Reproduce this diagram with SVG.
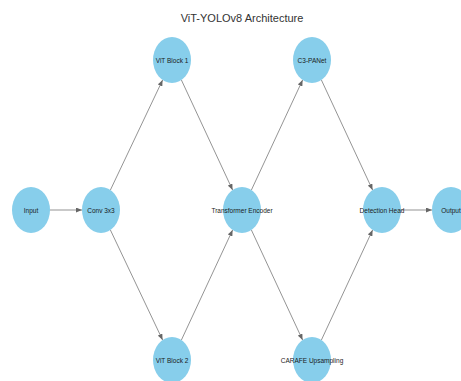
<svg xmlns="http://www.w3.org/2000/svg" width="461" height="381" viewBox="0 0 461 381">
<defs>
<style>
.n{fill:#87CEEB;stroke:none}
.t{font-family:"Liberation Sans",Arial,sans-serif;font-size:6.5px;fill:#1a1a1a;text-anchor:middle;dominant-baseline:central}
.e{stroke:#666;stroke-width:0.7;fill:none;marker-end:url(#ah)}
.title{font-family:"Liberation Sans",Arial,sans-serif;font-size:11px;fill:#333;text-anchor:middle}
</style>
<marker id="ah" markerUnits="userSpaceOnUse" markerWidth="6" markerHeight="5" refX="6" refY="2.5" orient="auto">
<path d="M0,0 L6,2.5 L0,5 Z" fill="#666"/>
</marker>
</defs>
<rect width="461" height="381" fill="#fff"/>
<text class="title" x="242" y="22">ViT-YOLOv8 Architecture</text>
<g id="connectors">
<line class="e" x1="50" y1="210" x2="82" y2="210"/>
<line class="e" x1="110.4" y1="190" x2="162.6" y2="80"/>
<line class="e" x1="110.4" y1="230" x2="162.6" y2="340"/>
<line class="e" x1="181.4" y1="80" x2="232.6" y2="190"/>
<line class="e" x1="181.4" y1="340" x2="232.6" y2="230"/>
<line class="e" x1="251.4" y1="190" x2="302.6" y2="80"/>
<line class="e" x1="251.4" y1="230" x2="302.6" y2="340"/>
<line class="e" x1="321.4" y1="80" x2="372.6" y2="190"/>
<line class="e" x1="321.4" y1="340" x2="372.6" y2="230"/>
<line class="e" x1="401" y1="210" x2="432" y2="210"/>
</g>
<g id="input"><ellipse class="n" cx="31" cy="210" rx="19" ry="23"/><text class="t" x="31" y="210">Input</text></g>
<g id="conv"><ellipse class="n" cx="101" cy="210" rx="19" ry="23"/><text class="t" x="101" y="210">Conv 3x3</text></g>
<g id="vit1"><ellipse class="n" cx="172" cy="60" rx="19" ry="23"/><text class="t" x="172" y="60">ViT Block 1</text></g>
<g id="vit2"><ellipse class="n" cx="172" cy="360" rx="19" ry="23"/><text class="t" x="172" y="360">ViT Block 2</text></g>
<g id="transformer"><ellipse class="n" cx="242" cy="210" rx="19" ry="23"/><text class="t" x="242" y="210">Transformer Encoder</text></g>
<g id="c3panet"><ellipse class="n" cx="312" cy="60" rx="19" ry="23"/><text class="t" x="312" y="60">C3-PANet</text></g>
<g id="carafe"><ellipse class="n" cx="312" cy="360" rx="19" ry="23"/><text class="t" x="312" y="360">CARAFE Upsampling</text></g>
<g id="detection"><ellipse class="n" cx="382" cy="210" rx="19" ry="23"/><text class="t" x="382" y="210">Detection Head</text></g>
<g id="output"><ellipse class="n" cx="451" cy="210" rx="19" ry="23"/><text class="t" x="451" y="210">Output</text></g>
</svg>
